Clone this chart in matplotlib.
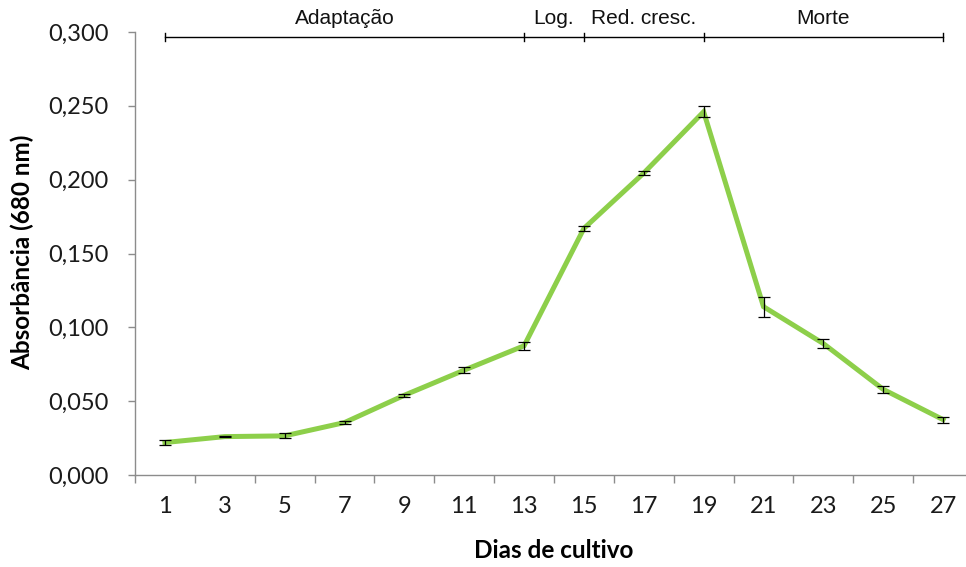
import matplotlib
matplotlib.use("Agg")
import matplotlib.pyplot as plt
import matplotlib.transforms as mtransforms
import numpy as np

days = ["1", "3", "5", "7", "9", "11", "13", "15", "17", "19", "21", "23", "25", "27"]
absorbance = [0.022, 0.026, 0.0265, 0.0355, 0.054, 0.071, 0.0875, 0.167, 0.2045, 0.246, 0.114, 0.089, 0.058, 0.0375]
errors = [0.002, 0.0005, 0.0017, 0.001, 0.001, 0.002, 0.0028, 0.0017, 0.0014, 0.0036, 0.0068, 0.003, 0.0026, 0.002]
yticks = [0.0, 0.05, 0.10, 0.15, 0.20, 0.25, 0.30]
ytick_labels = ["0,000", "0,050", "0,100", "0,150", "0,200", "0,250", "0,300"]
phase_labels = ["Adaptação", "Log.", "Red. cresc.", "Morte"]
phase_bounds = ["1", "13", "15", "19", "27"]

W, H = 966, 567
fig = plt.figure(figsize=(W / 100, H / 100), dpi=100)
left, right, bottom, top = 135, 973, 475, 32
ax = fig.add_axes([left / W, 1 - bottom / H, (right - left) / W, (bottom - top) / H])

x = np.arange(len(days))
ax.plot(x, absorbance, color="#8DCF4A", lw=3.6, solid_joinstyle="miter", zorder=2)
ax.errorbar(x, absorbance, yerr=errors, fmt="none", ecolor="black", elinewidth=0.9,
            capsize=4.5, capthick=0.9, zorder=3)

ax.set_xlim(-0.5, len(days) - 0.5)
ax.set_ylim(0, 0.3)
ax.set_yticks(yticks)
ax.set_yticklabels(ytick_labels)
ax.set_xticks(x)
ax.set_xticklabels(days)
ax.set_xticks(np.arange(-0.5, len(days), 1.0), minor=True)

for s in ["top", "right"]:
    ax.spines[s].set_visible(False)
for s in ["left", "bottom"]:
    ax.spines[s].set_color("#8C8C8C")
    ax.spines[s].set_linewidth(1.0)

tick_family = ["Lato", "DejaVu Sans"]
ax.tick_params(axis="x", which="major", length=0, pad=15)
ax.tick_params(axis="x", which="minor", length=6, color="#8C8C8C", width=1.0, direction="out")
ax.tick_params(axis="y", length=5, color="#8C8C8C", width=1.0, direction="out", pad=14)
for lbl in ax.get_xticklabels() + ax.get_yticklabels():
    lbl.set_fontfamily(tick_family)
    lbl.set_fontsize(17)
    lbl.set_color("#1A1A1A")

fig.text(22 / W, 1 - 252 / H, "Absorbância (680 nm)", rotation=90, ha="center", va="center",
         family=["Lato", "DejaVu Sans"], weight="bold", size=17.5)
fig.text(554 / W, 1 - 551 / H, "Dias de cultivo", ha="center", va="center",
         family=["Lato", "DejaVu Sans"], weight="bold", size=17.5)

# phase annotation bar above the plot
trans = mtransforms.blended_transform_factory(ax.transData, ax.transAxes)
bidx = [days.index(b) for b in phase_bounds]
yline = (bottom - 37) / (bottom - top)
ytick_h = 4 / (bottom - top)
ax.plot([bidx[0], bidx[-1]], [yline, yline], color="black", lw=1.0, transform=trans, clip_on=False)
for b in bidx:
    ax.plot([b, b], [yline - ytick_h, yline + ytick_h], color="black", lw=1.0,
            transform=trans, clip_on=False)
ylab = (bottom - 19) / (bottom - top)
for i, lab in enumerate(phase_labels):
    xc = (bidx[i] + bidx[i + 1]) / 2
    ax.text(xc, ylab, lab, transform=trans, ha="center", va="center",
            family=["Liberation Sans", "DejaVu Sans"], size=15, color="#111111")

fig.savefig("out.png", dpi=100)
